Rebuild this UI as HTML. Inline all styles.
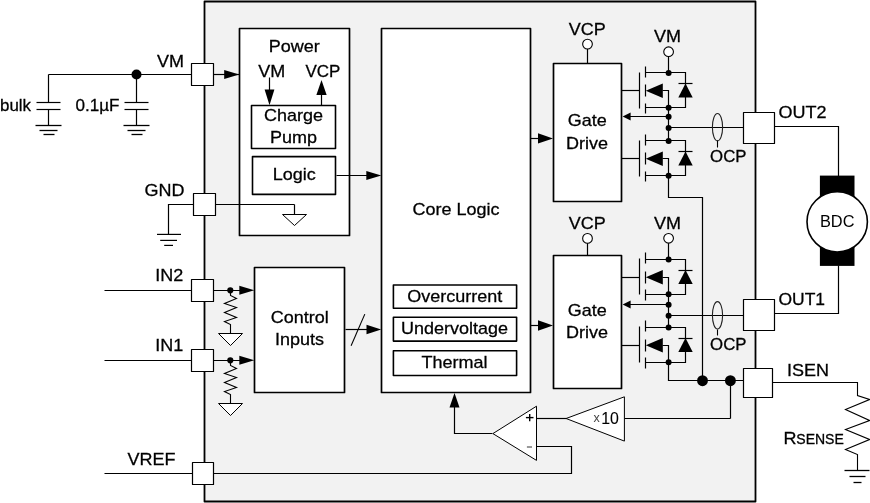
<!DOCTYPE html>
<html><head><meta charset="utf-8"><title>Block diagram</title>
<style>
html,body{margin:0;padding:0;background:#fff}
svg{display:block}
svg text{filter:url(#gs);stroke:#000;stroke-width:0.3px;font-family:"Liberation Sans",Arial,Helvetica,sans-serif}
</style></head><body>
<svg width="870" height="503" viewBox="0 0 870 503">
<defs><filter id="gs" x="-5%" y="-20%" width="110%" height="140%" color-interpolation-filters="sRGB"><feOffset dx="0" dy="0"/></filter></defs>
<rect width="870" height="503" fill="#fff"/>
<rect x="204.5" y="1.5" width="551.0" height="500.0" fill="#f2f2f2" stroke="#000" stroke-width="1.8" stroke-linejoin="round"/>
<line x1="48.5" y1="74.5" x2="192.5" y2="74.5" stroke="#000" stroke-width="1.2"/>
<line x1="48.5" y1="74.5" x2="48.5" y2="102.5" stroke="#000" stroke-width="1.2"/>
<line x1="36.5" y1="102.5" x2="60.5" y2="102.5" stroke="#000" stroke-width="1.2"/>
<line x1="36.5" y1="109.5" x2="60.5" y2="109.5" stroke="#000" stroke-width="1.2"/>
<line x1="48.5" y1="109.5" x2="48.5" y2="125.5" stroke="#000" stroke-width="1.2"/>
<line x1="35.5" y1="125.5" x2="61.5" y2="125.5" stroke="#000" stroke-width="1.3"/>
<line x1="39.5" y1="130.5" x2="57.5" y2="130.5" stroke="#000" stroke-width="1.3"/>
<line x1="43.5" y1="134.5" x2="54.5" y2="134.5" stroke="#000" stroke-width="1.3"/>
<line x1="136.5" y1="74.5" x2="136.5" y2="102.5" stroke="#000" stroke-width="1.2"/>
<line x1="124.5" y1="102.5" x2="148.5" y2="102.5" stroke="#000" stroke-width="1.2"/>
<line x1="124.5" y1="109.5" x2="148.5" y2="109.5" stroke="#000" stroke-width="1.2"/>
<line x1="136.5" y1="109.5" x2="136.5" y2="125.5" stroke="#000" stroke-width="1.2"/>
<line x1="123.5" y1="125.5" x2="149.5" y2="125.5" stroke="#000" stroke-width="1.3"/>
<line x1="127.5" y1="130.5" x2="145.5" y2="130.5" stroke="#000" stroke-width="1.3"/>
<line x1="131.5" y1="134.5" x2="142.5" y2="134.5" stroke="#000" stroke-width="1.3"/>
<circle cx="136.5" cy="74.5" r="5" fill="#000"/>
<text transform="translate(0,110.8) scale(1,0.91)" font-size="18" textLength="31" lengthAdjust="spacingAndGlyphs" fill="#000">bulk</text>
<text transform="translate(75.5,110.8) scale(1,0.9)" font-size="18" textLength="44" lengthAdjust="spacingAndGlyphs" fill="#000">0.1µF</text>
<text transform="translate(157,67.4) scale(1,0.945)" font-size="18" fill="#000">VM</text>
<line x1="213.5" y1="74.5" x2="239.5" y2="74.5" stroke="#000" stroke-width="1.2"/>
<polygon points="239.2,74.5 224.2,70.0 224.2,79.0" fill="#000"/>
<rect x="239.5" y="28.5" width="110.0" height="207.0" fill="#fff" stroke="#000" stroke-width="1.7" stroke-linejoin="round"/>
<rect x="191.5" y="63.5" width="22.0" height="22.0" fill="#fff" stroke="#000" stroke-width="1.2" stroke-linejoin="round"/>
<text transform="translate(294.2,52.0) scale(1,0.945)" font-size="18" text-anchor="middle" fill="#000">Power</text>
<text transform="translate(258.2,77.2) scale(1,0.945)" font-size="18" fill="#000">VM</text>
<text transform="translate(305.4,77.2) scale(1,0.945)" font-size="18" textLength="34.9" lengthAdjust="spacingAndGlyphs" fill="#000">VCP</text>
<line x1="269.5" y1="77.5" x2="269.5" y2="95.5" stroke="#000" stroke-width="1.2"/>
<polygon points="269.5,105.3 264.6,89.39999999999999 274.4,89.39999999999999" fill="#000"/>
<line x1="321.5" y1="90.5" x2="321.5" y2="105.5" stroke="#000" stroke-width="1.2"/>
<polygon points="321.5,80 316.35,95 326.65,95" fill="#000"/>
<rect x="251.5" y="105.5" width="84.0" height="43.05" fill="#fff" stroke="#000" stroke-width="1.6" stroke-linejoin="round"/>
<text transform="translate(293.5,120.9) scale(1,0.945)" font-size="18" text-anchor="middle" fill="#000">Charge</text>
<text transform="translate(293.6,142.7) scale(1,0.945)" font-size="18" text-anchor="middle" fill="#000">Pump</text>
<rect x="252.5" y="156.6" width="83.0" height="37.8" fill="#fff" stroke="#000" stroke-width="1.6" stroke-linejoin="round"/>
<text transform="translate(294.2,180.0) scale(1,0.945)" font-size="18" text-anchor="middle" fill="#000">Logic</text>
<line x1="336.5" y1="175.5" x2="370.5" y2="175.5" stroke="#000" stroke-width="1.2"/>
<polygon points="381.3,175.5 366.3,171.0 366.3,180.0" fill="#000"/>
<line x1="215.5" y1="204.5" x2="294.5" y2="204.5" stroke="#000" stroke-width="1.2"/>
<line x1="294.5" y1="204.5" x2="294.5" y2="214.5" stroke="#000" stroke-width="1.2"/>
<polygon points="282.5,214.5 306.5,214.5 294.5,225.5" fill="#fff" stroke="#000" stroke-width="1.0" stroke-linejoin="miter"/>
<rect x="193.5" y="193.5" width="22.0" height="22.0" fill="#fff" stroke="#000" stroke-width="1.2" stroke-linejoin="round"/>
<text transform="translate(144.6,196) scale(1,0.945)" font-size="18" fill="#000">GND</text>
<polyline points="193.5,204.5 168.5,204.5 168.5,234.5" fill="none" stroke="#000" stroke-width="1.2" stroke-linejoin="miter"/>
<line x1="157" y1="234.4" x2="181" y2="234.4" stroke="#000" stroke-width="1.2"/>
<line x1="160.2" y1="240.4" x2="177" y2="240.4" stroke="#000" stroke-width="1.2"/>
<line x1="164.2" y1="245.4" x2="173" y2="245.4" stroke="#000" stroke-width="1.2"/>
<rect x="381.5" y="28.5" width="149.0" height="364.0" fill="#fff" stroke="#000" stroke-width="1.7" stroke-linejoin="round"/>
<text transform="translate(456.0,215.2) scale(1,0.945)" font-size="18" text-anchor="middle" fill="#000">Core Logic</text>
<rect x="393.4" y="285.0" width="123.2" height="23.3" fill="#fff" stroke="#000" stroke-width="1.6" stroke-linejoin="round"/>
<rect x="393.4" y="317.3" width="123.2" height="23.8" fill="#fff" stroke="#000" stroke-width="1.6" stroke-linejoin="round"/>
<rect x="393.4" y="350.7" width="123.2" height="24.8" fill="#fff" stroke="#000" stroke-width="1.6" stroke-linejoin="round"/>
<text transform="translate(454.7,301.5) scale(1,0.945)" font-size="18" text-anchor="middle" fill="#000">Overcurrent</text>
<text transform="translate(454.5,333.9) scale(1,0.945)" font-size="18" text-anchor="middle" fill="#000">Undervoltage</text>
<text transform="translate(454.6,367.5) scale(1,0.945)" font-size="18" text-anchor="middle" fill="#000">Thermal</text>
<rect x="254.5" y="267.5" width="90.0" height="125.0" fill="#fff" stroke="#000" stroke-width="1.7" stroke-linejoin="round"/>
<text transform="translate(299.8,323.1) scale(1,0.945)" font-size="18" text-anchor="middle" fill="#000">Control</text>
<text transform="translate(299.4,344.8) scale(1,0.945)" font-size="18" text-anchor="middle" fill="#000">Inputs</text>
<line x1="345.5" y1="329.5" x2="370.5" y2="329.5" stroke="#000" stroke-width="1.2"/>
<polygon points="381.2,329.5 366.5,324.7 366.5,334.3" fill="#000"/>
<line x1="351.1" y1="345.7" x2="364.8" y2="314.1" stroke="#000" stroke-width="1.1"/>
<line x1="104.5" y1="290.5" x2="192.5" y2="290.5" stroke="#000" stroke-width="1.2"/>
<line x1="213.5" y1="290.5" x2="245.5" y2="290.5" stroke="#000" stroke-width="1.2"/>
<polygon points="254.3,290.3 239.3,285.8 239.3,294.8" fill="#000"/>
<circle cx="230.3" cy="290.3" r="3.1" fill="#000"/>
<polyline points="230.5,290.5 230.5,295.5 236.5,298.5 224.5,303.5 236.5,307.5 224.5,312.5 236.5,317.5 224.5,321.5 230.5,324.5 230.5,333.5" fill="none" stroke="#000" stroke-width="1.1" stroke-linejoin="miter"/>
<polygon points="218.5,333.5 242.5,333.5 230.5,345.5" fill="#fff" stroke="#000" stroke-width="1.0" stroke-linejoin="miter"/>
<rect x="191.5" y="279.5" width="22.0" height="22.0" fill="#fff" stroke="#000" stroke-width="1.2" stroke-linejoin="round"/>
<text transform="translate(155.2,281.0) scale(1,0.945)" font-size="18" fill="#000">IN2</text>
<line x1="104.5" y1="360.5" x2="192.5" y2="360.5" stroke="#000" stroke-width="1.2"/>
<line x1="213.5" y1="360.5" x2="245.5" y2="360.5" stroke="#000" stroke-width="1.2"/>
<polygon points="254.3,360.3 239.3,355.8 239.3,364.8" fill="#000"/>
<circle cx="230.3" cy="360.3" r="3.1" fill="#000"/>
<polyline points="230.5,360.5 230.5,365.5 236.5,368.5 224.5,373.5 236.5,377.5 224.5,382.5 236.5,387.5 224.5,391.5 230.5,394.5 230.5,403.5" fill="none" stroke="#000" stroke-width="1.1" stroke-linejoin="miter"/>
<polygon points="218.5,403.5 242.5,403.5 230.5,415.5" fill="#fff" stroke="#000" stroke-width="1.0" stroke-linejoin="miter"/>
<rect x="191.5" y="349.5" width="22.0" height="22.0" fill="#fff" stroke="#000" stroke-width="1.2" stroke-linejoin="round"/>
<text transform="translate(155.2,351.0) scale(1,0.945)" font-size="18" fill="#000">IN1</text>
<line x1="104.5" y1="473.5" x2="192.5" y2="473.5" stroke="#000" stroke-width="1.2"/>
<polyline points="213.5,473.5 571.5,473.5 571.5,446.5 536.5,446.5" fill="none" stroke="#000" stroke-width="1.2" stroke-linejoin="miter"/>
<rect x="192.5" y="462.5" width="21.0" height="22.0" fill="#fff" stroke="#000" stroke-width="1.2" stroke-linejoin="round"/>
<text transform="translate(127.5,465) scale(1,0.945)" font-size="18" fill="#000">VREF</text>
<line x1="587.5" y1="44.5" x2="587.5" y2="63.5" stroke="#000" stroke-width="1.2"/>
<rect x="553.5" y="63.5" width="68.0" height="138.0" fill="#fff" stroke="#000" stroke-width="1.7" stroke-linejoin="round"/>
<circle cx="587.5" cy="44.1" r="4.85" fill="#fff" stroke="#000" stroke-width="1.1"/>
<text transform="translate(587.3,126.4) scale(1,0.945)" font-size="18" text-anchor="middle" fill="#000">Gate</text>
<text transform="translate(587.0,148.60000000000002) scale(1,0.945)" font-size="18" text-anchor="middle" fill="#000">Drive</text>
<text transform="translate(587.3,34.5) scale(1,0.945)" font-size="18" text-anchor="middle" fill="#000">VCP</text>
<text transform="translate(667.5,41.6) scale(1,0.945)" font-size="18" text-anchor="middle" fill="#000">VM</text>
<line x1="668.5" y1="51.5" x2="668.5" y2="72.5" stroke="#000" stroke-width="1.2"/>
<circle cx="668.6" cy="51.7" r="4.85" fill="#fff" stroke="#000" stroke-width="1.1"/>
<line x1="621.5" y1="90.5" x2="639.5" y2="90.5" stroke="#000" stroke-width="1.2"/>
<line x1="639.5" y1="72.5" x2="639.5" y2="108.5" stroke="#000" stroke-width="1.2"/>
<line x1="645.5" y1="66.5" x2="645.5" y2="77.5" stroke="#000" stroke-width="1.2"/>
<line x1="645.5" y1="84.5" x2="645.5" y2="96.5" stroke="#000" stroke-width="1.2"/>
<line x1="645.5" y1="103.5" x2="645.5" y2="113.5" stroke="#000" stroke-width="1.2"/>
<polyline points="645.5,72.5 685.5,72.5 685.5,107.5 645.5,107.5" fill="none" stroke="#000" stroke-width="1.2" stroke-linejoin="miter"/>
<polygon points="645.8,90.7 662.8,83.5 662.8,97.9" fill="#000"/>
<polyline points="662.5,90.5 668.5,90.5 668.5,107.5" fill="none" stroke="#000" stroke-width="1.2" stroke-linejoin="miter"/>
<polygon points="685.5,83.5 678.3,97.5 692.7,97.5" fill="#000"/>
<line x1="678.5" y1="83.5" x2="692.5" y2="83.5" stroke="#000" stroke-width="1.2"/>
<line x1="668.5" y1="107.5" x2="668.5" y2="140.5" stroke="#000" stroke-width="1.2"/>
<line x1="621.5" y1="158.5" x2="639.5" y2="158.5" stroke="#000" stroke-width="1.2"/>
<line x1="639.5" y1="140.5" x2="639.5" y2="176.5" stroke="#000" stroke-width="1.2"/>
<line x1="645.5" y1="134.5" x2="645.5" y2="145.5" stroke="#000" stroke-width="1.2"/>
<line x1="645.5" y1="152.5" x2="645.5" y2="164.5" stroke="#000" stroke-width="1.2"/>
<line x1="645.5" y1="171.5" x2="645.5" y2="181.5" stroke="#000" stroke-width="1.2"/>
<polyline points="645.5,140.5 685.5,140.5 685.5,175.5 645.5,175.5" fill="none" stroke="#000" stroke-width="1.2" stroke-linejoin="miter"/>
<polygon points="645.8,158.70000000000002 662.8,151.5 662.8,165.9" fill="#000"/>
<polyline points="662.5,158.5 668.5,158.5 668.5,175.5" fill="none" stroke="#000" stroke-width="1.2" stroke-linejoin="miter"/>
<polygon points="685.5,151.5 678.3,165.5 692.7,165.5" fill="#000"/>
<line x1="678.5" y1="151.5" x2="692.5" y2="151.5" stroke="#000" stroke-width="1.2"/>
<circle cx="668.6" cy="72.9" r="3" fill="#000"/>
<circle cx="668.6" cy="107.80000000000001" r="3" fill="#000"/>
<circle cx="668.6" cy="116.7" r="3" fill="#000"/>
<circle cx="668.6" cy="127.9" r="3" fill="#000"/>
<circle cx="668.6" cy="140.9" r="3" fill="#000"/>
<circle cx="668.6" cy="175.8" r="3" fill="#000"/>
<line x1="668.5" y1="116.5" x2="628.5" y2="116.5" stroke="#000" stroke-width="1.2"/>
<polygon points="622.6,116.5 630.6,112.5 630.6,120.5" fill="#000"/>
<line x1="668.5" y1="127.5" x2="744.5" y2="127.5" stroke="#000" stroke-width="1.2"/>
<polyline points="668.5,175.5 668.5,197.5 702.5,197.5 702.5,380.5" fill="none" stroke="#000" stroke-width="1.2" stroke-linejoin="miter"/>
<line x1="587.5" y1="238.5" x2="587.5" y2="255.5" stroke="#000" stroke-width="1.2"/>
<rect x="553.5" y="255.5" width="68.0" height="133.0" fill="#fff" stroke="#000" stroke-width="1.7" stroke-linejoin="round"/>
<circle cx="587.5" cy="238.4" r="4.85" fill="#fff" stroke="#000" stroke-width="1.1"/>
<text transform="translate(587.3,315.7) scale(1,0.945)" font-size="18" text-anchor="middle" fill="#000">Gate</text>
<text transform="translate(587.0,337.9) scale(1,0.945)" font-size="18" text-anchor="middle" fill="#000">Drive</text>
<text transform="translate(587.3,228.6) scale(1,0.945)" font-size="18" text-anchor="middle" fill="#000">VCP</text>
<text transform="translate(667.5,228.5) scale(1,0.945)" font-size="18" text-anchor="middle" fill="#000">VM</text>
<line x1="668.5" y1="238.5" x2="668.5" y2="259.5" stroke="#000" stroke-width="1.2"/>
<circle cx="668.6" cy="238.3" r="4.85" fill="#fff" stroke="#000" stroke-width="1.1"/>
<line x1="621.5" y1="277.5" x2="639.5" y2="277.5" stroke="#000" stroke-width="1.2"/>
<line x1="639.5" y1="258.5" x2="639.5" y2="294.5" stroke="#000" stroke-width="1.2"/>
<line x1="645.5" y1="252.5" x2="645.5" y2="263.5" stroke="#000" stroke-width="1.2"/>
<line x1="645.5" y1="271.5" x2="645.5" y2="283.5" stroke="#000" stroke-width="1.2"/>
<line x1="645.5" y1="289.5" x2="645.5" y2="300.5" stroke="#000" stroke-width="1.2"/>
<polyline points="645.5,259.5 685.5,259.5 685.5,294.5 645.5,294.5" fill="none" stroke="#000" stroke-width="1.2" stroke-linejoin="miter"/>
<polygon points="645.8,277.2 662.8,270.0 662.8,284.4" fill="#000"/>
<polyline points="662.5,277.5 668.5,277.5 668.5,294.5" fill="none" stroke="#000" stroke-width="1.2" stroke-linejoin="miter"/>
<polygon points="685.5,270.0 678.3,284.0 692.7,284.0" fill="#000"/>
<line x1="678.5" y1="270.5" x2="692.5" y2="270.5" stroke="#000" stroke-width="1.2"/>
<line x1="668.5" y1="294.5" x2="668.5" y2="327.5" stroke="#000" stroke-width="1.2"/>
<line x1="621.5" y1="345.5" x2="639.5" y2="345.5" stroke="#000" stroke-width="1.2"/>
<line x1="639.5" y1="326.5" x2="639.5" y2="362.5" stroke="#000" stroke-width="1.2"/>
<line x1="645.5" y1="320.5" x2="645.5" y2="331.5" stroke="#000" stroke-width="1.2"/>
<line x1="645.5" y1="339.5" x2="645.5" y2="351.5" stroke="#000" stroke-width="1.2"/>
<line x1="645.5" y1="357.5" x2="645.5" y2="368.5" stroke="#000" stroke-width="1.2"/>
<polyline points="645.5,327.5 685.5,327.5 685.5,362.5 645.5,362.5" fill="none" stroke="#000" stroke-width="1.2" stroke-linejoin="miter"/>
<polygon points="645.8,345.2 662.8,338.0 662.8,352.4" fill="#000"/>
<polyline points="662.5,345.5 668.5,345.5 668.5,362.5" fill="none" stroke="#000" stroke-width="1.2" stroke-linejoin="miter"/>
<polygon points="685.5,338.0 678.3,352.0 692.7,352.0" fill="#000"/>
<line x1="678.5" y1="338.5" x2="692.5" y2="338.5" stroke="#000" stroke-width="1.2"/>
<circle cx="668.6" cy="259.4" r="3" fill="#000"/>
<circle cx="668.6" cy="294.29999999999995" r="3" fill="#000"/>
<circle cx="668.6" cy="304.79999999999995" r="3" fill="#000"/>
<circle cx="668.6" cy="315.7" r="3" fill="#000"/>
<circle cx="668.6" cy="327.4" r="3" fill="#000"/>
<circle cx="668.6" cy="362.29999999999995" r="3" fill="#000"/>
<line x1="668.5" y1="304.5" x2="628.5" y2="304.5" stroke="#000" stroke-width="1.2"/>
<polygon points="622.6,304.5 630.6,300.5 630.6,308.5" fill="#000"/>
<line x1="668.5" y1="315.5" x2="744.5" y2="315.5" stroke="#000" stroke-width="1.2"/>
<polyline points="668.5,362.5 668.5,380.5 744.5,380.5" fill="none" stroke="#000" stroke-width="1.2" stroke-linejoin="miter"/>
<circle cx="702.5" cy="380.7" r="5.45" fill="#000"/>
<circle cx="730.4" cy="380.7" r="5.45" fill="#000"/>
<line x1="530.5" y1="138.5" x2="545.5" y2="138.5" stroke="#000" stroke-width="1.2"/>
<polygon points="553.0,138.4 538.0,133.25 538.0,143.55" fill="#000"/>
<line x1="530.5" y1="325.5" x2="545.5" y2="325.5" stroke="#000" stroke-width="1.2"/>
<polygon points="553.0,325.6 538.0,320.35 538.0,330.85" fill="#000"/>
<ellipse cx="717.5" cy="127.15" rx="5.1" ry="13.7" fill="none" stroke="#222" stroke-width="1.1"/>
<line x1="717.5" y1="140.5" x2="717.5" y2="147.5" stroke="#000" stroke-width="1.1"/>
<text x="710.1" y="161.7" font-size="16.5" textLength="36.4" lengthAdjust="spacingAndGlyphs" fill="#000">OCP</text>
<ellipse cx="717.5" cy="315.3" rx="5.1" ry="13.7" fill="none" stroke="#222" stroke-width="1.1"/>
<line x1="717.5" y1="329.5" x2="717.5" y2="335.5" stroke="#000" stroke-width="1.1"/>
<text x="710.1" y="349.7" font-size="16.5" textLength="36.4" lengthAdjust="spacingAndGlyphs" fill="#000">OCP</text>
<polyline points="774.5,126.5 838.5,126.5 838.5,176.5" fill="none" stroke="#000" stroke-width="1.2" stroke-linejoin="miter"/>
<polyline points="774.5,313.5 838.5,313.5 838.5,265.5" fill="none" stroke="#000" stroke-width="1.2" stroke-linejoin="miter"/>
<rect x="743.5" y="112.5" width="31.0" height="31.0" fill="#fff" stroke="#000" stroke-width="1.2" stroke-linejoin="round"/>
<rect x="743.5" y="299.5" width="31.0" height="31.0" fill="#fff" stroke="#000" stroke-width="1.2" stroke-linejoin="round"/>
<text transform="translate(778.5,117.9) scale(1,0.945)" font-size="18" fill="#000">OUT2</text>
<text transform="translate(778.5,305.2) scale(1,0.945)" font-size="18" textLength="46.6" lengthAdjust="spacingAndGlyphs" fill="#000">OUT1</text>
<rect x="819.9" y="175.6" width="34.6" height="90.3" fill="#000"/>
<circle cx="837.2" cy="221.8" r="30.2" fill="#fff" stroke="#000" stroke-width="1.6"/>
<text x="837.2" y="226.9" font-size="17.4" text-anchor="middle" textLength="34.5" lengthAdjust="spacingAndGlyphs" font-family="'DejaVu Sans','Liberation Sans',sans-serif" fill="#000" style="stroke:none">BDC</text>
<polyline points="772.5,382.5 857.5,382.5 857.5,395.5 869.5,399.5 845.5,409.5 869.5,420.5 845.5,429.5 869.5,439.5 845.5,449.5 857.5,454.5 857.5,470.5" fill="none" stroke="#000" stroke-width="1.1" stroke-linejoin="miter"/>
<line x1="844.5" y1="470.5" x2="869.5" y2="470.5" stroke="#000" stroke-width="1.3"/>
<line x1="849.5" y1="476.5" x2="865.5" y2="476.5" stroke="#000" stroke-width="1.3"/>
<line x1="853.5" y1="482.5" x2="861.5" y2="482.5" stroke="#000" stroke-width="1.3"/>
<rect x="743.5" y="368.5" width="29.0" height="29.0" fill="#fff" stroke="#000" stroke-width="1.2" stroke-linejoin="round"/>
<text transform="translate(787,376) scale(1,0.945)" font-size="18" fill="#000">ISEN</text>
<text transform="translate(783.5,443.6) scale(1,0.945)" font-size="18" fill="#000">R</text>
<text x="796.3" y="443.6" font-size="14" fill="#000">SENSE</text>
<line x1="730.5" y1="380.5" x2="730.5" y2="418.5" stroke="#000" stroke-width="1.2"/>
<line x1="730.5" y1="418.5" x2="624.5" y2="418.5" stroke="#000" stroke-width="1.2"/>
<polygon points="566.1,418.5 624.4,396.8 624.4,441.1" fill="#fff" stroke="#000" stroke-width="1.0" stroke-linejoin="miter"/>
<text x="593.4" y="422.2" font-size="12.5" fill="#444" style="stroke:none">x</text>
<text x="601.2" y="424" font-size="17.3" textLength="17.7" lengthAdjust="spacingAndGlyphs" fill="#000" style="stroke-width:0.1px">10</text>
<line x1="536.5" y1="418.5" x2="566.5" y2="418.5" stroke="#000" stroke-width="1.2"/>
<polygon points="492.9,433.6 536.5,406.2 536.5,460.4" fill="#fff" stroke="#000" stroke-width="1.0" stroke-linejoin="miter"/>
<line x1="525.9" y1="417.6" x2="533.5" y2="417.6" stroke="#000" stroke-width="1.4"/>
<line x1="529.7" y1="413.9" x2="529.7" y2="421.3" stroke="#000" stroke-width="1.4"/>
<line x1="526.9" y1="447" x2="532" y2="447" stroke="#777" stroke-width="1.5"/>
<polyline points="492.5,433.5 454.5,433.5 454.5,405.5" fill="none" stroke="#000" stroke-width="1.2" stroke-linejoin="miter"/>
<polygon points="454.5,393 449.5,407.5 459.5,407.5" fill="#000"/>
</svg>
</body></html>
